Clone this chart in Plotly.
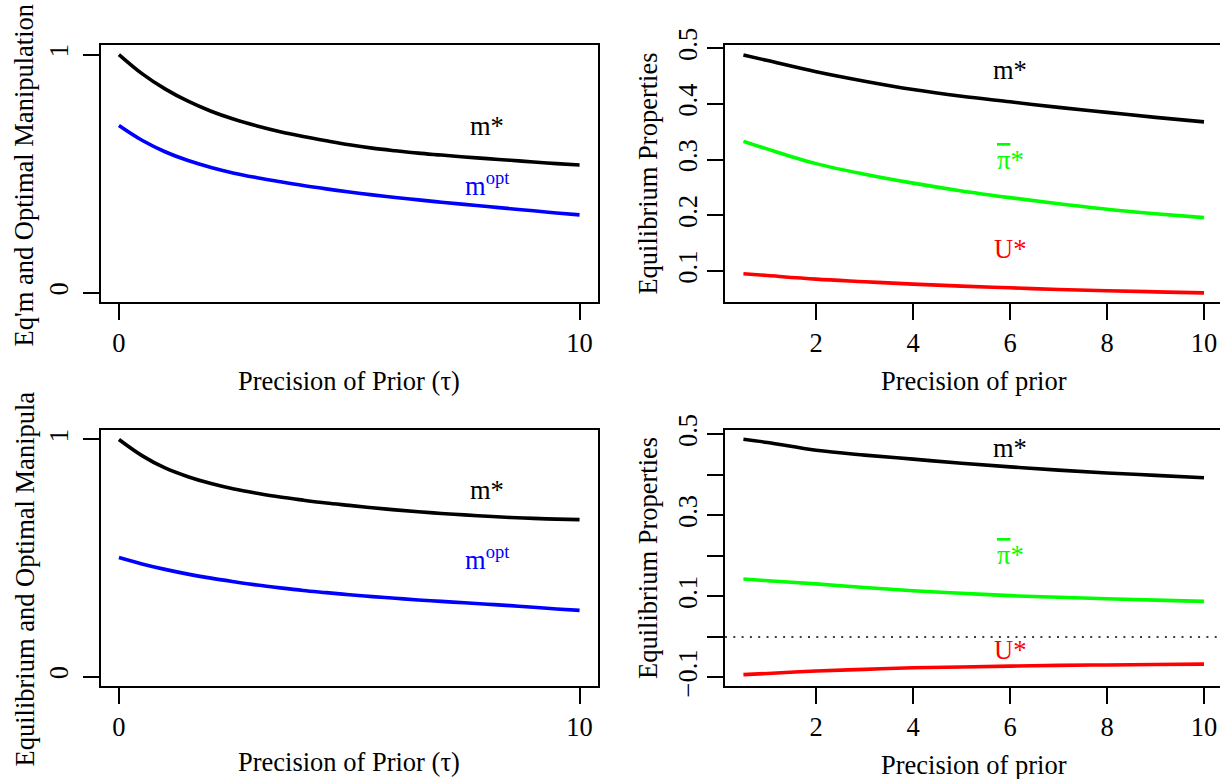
import plotly.graph_objects as go

# ---- data -----------------------------------------------------------------
# Left column: equilibrium vs. optimal manipulation against prior precision
tau_left = [0, 0.5, 1, 1.5, 2, 2.5, 3, 3.5, 4, 4.5, 5, 5.5, 6, 6.5, 7, 7.5, 8, 8.5, 9, 9.5, 10]
m_eq_top = [1.000, 0.920, 0.856, 0.804, 0.762, 0.728, 0.700, 0.676, 0.656, 0.638, 0.621,
            0.607, 0.596, 0.586, 0.578, 0.570, 0.563, 0.556, 0.549, 0.542, 0.536]
m_opt_top = [0.702, 0.640, 0.592, 0.555, 0.526, 0.502, 0.483, 0.466, 0.450, 0.436, 0.423,
             0.411, 0.400, 0.390, 0.380, 0.371, 0.362, 0.353, 0.344, 0.335, 0.327]
m_eq_bot = [1.000, 0.932, 0.880, 0.843, 0.814, 0.791, 0.773, 0.757, 0.744, 0.732, 0.722,
            0.712, 0.703, 0.695, 0.688, 0.682, 0.676, 0.671, 0.667, 0.664, 0.662]
m_opt_bot = [0.502, 0.475, 0.452, 0.432, 0.415, 0.400, 0.386, 0.374, 0.363, 0.354, 0.345,
             0.337, 0.330, 0.323, 0.317, 0.311, 0.305, 0.299, 0.292, 0.285, 0.279]

# Right column: equilibrium properties against prior precision
tau_right = [0.5, 1, 2, 3, 4, 5, 6, 7, 8, 9, 10]
m_star_top = [0.488, 0.478, 0.458, 0.441, 0.426, 0.414, 0.404, 0.394, 0.385, 0.376, 0.368]
pi_bar_top = [0.333, 0.319, 0.293, 0.274, 0.258, 0.244, 0.232, 0.221, 0.211, 0.203, 0.196]
u_star_top = [0.0953, 0.092, 0.0856, 0.081, 0.0766, 0.073, 0.070, 0.067, 0.0647, 0.0628, 0.061]
m_star_bot = [0.488, 0.480, 0.461, 0.449, 0.439, 0.429, 0.420, 0.412, 0.405, 0.399, 0.393]
pi_bar_bot = [0.143, 0.139, 0.131, 0.122, 0.114, 0.108, 0.102, 0.098, 0.0944, 0.091, 0.088]
u_star_bot = [-0.093, -0.090, -0.084, -0.080, -0.076, -0.074, -0.072, -0.070, -0.069, -0.068, -0.067]

# tick labels
left_xticks = [0, 10]
left_yticks = [0, 1]
right_xticks = [2, 4, 6, 8, 10]
right_yticks_top = [0.1, 0.2, 0.3, 0.4, 0.5]
right_yticks_bot = [-0.1, 0.0, 0.1, 0.2, 0.3, 0.4, 0.5]
right_yticktext_bot = ["\u22120.1", "", "0.1", "", "0.3", "", "0.5"]

# ---- styling --------------------------------------------------------------
W, H = 1220, 779
FONT = "Liberation Serif"
FS = 26.5
LW = 3.6


def xdom(a, b):
    return [a / W, min(b / W, 1.0)]


def ydom(top, bottom):
    return [1 - bottom / H, 1 - top / H]


def axis_style(**kw):
    d = dict(showline=True, linecolor="black", linewidth=1.5,
             ticks="outside", ticklen=16, tickwidth=1.5, tickcolor="black",
             showgrid=False, zeroline=False, automargin=False,
             tickfont=dict(family=FONT, size=FS, color="black"))
    d.update(kw)
    return d


fig = go.Figure()


def curve(x, y, color, xa, ya):
    fig.add_trace(go.Scatter(x=x, y=y, mode="lines", xaxis=xa, yaxis=ya,
                             line=dict(color=color, width=LW, shape="spline", smoothing=1.0),
                             showlegend=False, hoverinfo="skip"))


curve(tau_left, m_eq_top, "black", "x", "y")
curve(tau_left, m_opt_top, "blue", "x", "y")
curve(tau_right, m_star_top, "black", "x2", "y2")
curve(tau_right, pi_bar_top, "#00ff00", "x2", "y2")
curve(tau_right, u_star_top, "red", "x2", "y2")
curve(tau_left, m_eq_bot, "black", "x3", "y3")
curve(tau_left, m_opt_bot, "blue", "x3", "y3")
curve(tau_right, m_star_bot, "black", "x4", "y4")
curve(tau_right, pi_bar_bot, "#00ff00", "x4", "y4")
curve(tau_right, u_star_bot, "red", "x4", "y4")

LEFT_X = (100.5, 598)
RIGHT_X = (725, 1222)
TOP_Y = (45, 302.3)
BOT_Y = (430, 686)

fig.update_layout(
    template="none",
    width=W, height=H, margin=dict(l=0, r=0, t=0, b=0, autoexpand=False),
    paper_bgcolor="white", plot_bgcolor="white",
    font=dict(family=FONT, size=FS, color="black"),
    xaxis=axis_style(domain=xdom(*LEFT_X), range=[-0.4, 10.4], anchor="y",
                     tickvals=left_xticks, mirror=True),
    yaxis=axis_style(domain=ydom(*TOP_Y), range=[-0.04, 1.04], anchor="x",
                     tickvals=left_yticks, tickangle=-90, mirror=True,
                     ticklabelstandoff=4),
    xaxis2=axis_style(domain=xdom(*RIGHT_X), range=[0.12, 10.33], anchor="y2",
                      tickvals=right_xticks, mirror=True),
    yaxis2=axis_style(domain=ydom(*TOP_Y), range=[0.044, 0.506], anchor="x2",
                      tickvals=right_yticks_top, tickangle=-90),
    xaxis3=axis_style(domain=xdom(*LEFT_X), range=[-0.4, 10.4], anchor="y3",
                      tickvals=left_xticks, mirror=True),
    yaxis3=axis_style(domain=ydom(*BOT_Y), range=[-0.04, 1.04], anchor="x3",
                      tickvals=left_yticks, tickangle=-90, mirror=True,
                      ticklabelstandoff=4),
    xaxis4=axis_style(domain=xdom(*RIGHT_X), range=[0.12, 10.33], anchor="y4",
                      tickvals=right_xticks, mirror=True),
    yaxis4=axis_style(domain=ydom(*BOT_Y), range=[-0.121, 0.511], anchor="x4",
                      tickvals=right_yticks_bot, ticktext=right_yticktext_bot,
                      tickangle=-90),
)

# horizontal reference line at zero in the lower right panel
fig.add_shape(type="line", xref="x4 domain", yref="y4", x0=0, x1=1, y0=0, y1=0,
              line=dict(color="black", width=1.6, dash="2px,6.3px"))


def label(text, x, y, color, xa, ya):
    fig.add_annotation(text=text, x=x, y=y, xref=xa, yref=ya, showarrow=False,
                       font=dict(family=FONT, size=FS, color=color),
                       xanchor="center", yanchor="middle")


PI_BAR = "<span style='text-decoration:overline'>\u03c0</span>*"

label("m*", 8, 0.70, "black", "x", "y")
label("m<sup>opt</sup>", 8, 0.455, "blue", "x", "y")
label("m*", 6, 0.461, "black", "x2", "y2")
label(PI_BAR, 6, 0.30, "#00ff00", "x2", "y2")
label("U*", 6, 0.14, "red", "x2", "y2")
label("m*", 8, 0.785, "black", "x3", "y3")
label("m<sup>opt</sup>", 8, 0.50, "blue", "x3", "y3")
label("m*", 6, 0.466, "black", "x4", "y4")
label(PI_BAR, 6, 0.203, "#00ff00", "x4", "y4")
label("U*", 6, -0.032, "red", "x4", "y4")


def title(text, xpx, ypx, angle=0, yanchor="middle"):
    fig.add_annotation(text=text, x=xpx / W, y=1 - ypx / H, xref="paper", yref="paper",
                       showarrow=False, textangle=angle,
                       font=dict(family=FONT, size=FS, color="black"),
                       xanchor="center", yanchor=yanchor)


# axis titles
title("Precision of Prior (\u03c4)", 349, 381)
title("Precision of prior", 973.5, 381)
title("Precision of Prior (\u03c4)", 349, 762)
title("Precision of prior", 973.5, 765)
title("Eq'm and Optimal Manipulation", 24, 175.5, angle=-90)
title("Equilibrium and Optimal Manipula", 24, 769, angle=-90, yanchor="bottom")
title("Equilibrium Properties", 648, 173.6, angle=-90)
title("Equilibrium Properties", 648, 558, angle=-90)

fig.write_html("out.html")
